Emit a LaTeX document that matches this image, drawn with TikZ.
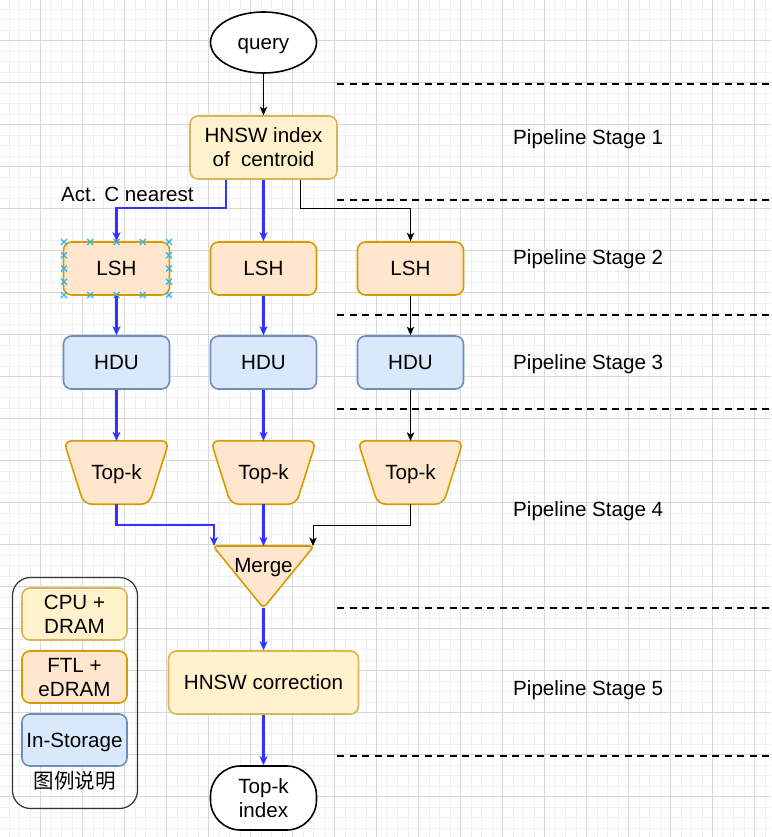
\documentclass[tikz,border=0pt]{standalone}
\usepackage{fontspec}
\setmainfont{Liberation Sans}
\newfontfamily\cjk{Noto Sans CJK SC}
\usetikzlibrary{arrows.meta,calc,shapes.geometric}
\definecolor{yfill}{HTML}{FFF2CC}\definecolor{ystroke}{HTML}{D6B656}
\definecolor{ofill}{HTML}{FFE6CC}\definecolor{ostroke}{HTML}{D79B00}
\definecolor{bfill}{HTML}{DAE8FC}\definecolor{bstroke}{HTML}{6C8EBF}
\definecolor{arrblue}{HTML}{3333FF}
\definecolor{selblue}{HTML}{29B6F2}
\definecolor{gridminor}{HTML}{F0F0F0}
\definecolor{gridmajor}{HTML}{D8D8D8}
\pgfdeclarelayer{bg}
\pgfdeclarelayer{shapes}
\pgfsetlayers{bg,shapes,main}
\begin{document}
\begin{tikzpicture}[x=1pt,y=-1pt,
 txt/.style={font=\fontsize{20.6}{24}\selectfont, align=center, inner sep=0pt, text height=18.5pt, text depth=4.4pt},
 twoline/.style={text height=42.5pt, text depth=4.4pt},
 box/.style={txt, draw, rounded corners=8pt, line width=1.6pt, minimum width=106pt, minimum height=53pt},
 cpubox/.style={box, fill=yfill, draw=ystroke},
 ftlbox/.style={box, fill=ofill, draw=ostroke},
 hdubox/.style={box, fill=bfill, draw=bstroke},
 ftlshape/.style={fill=ofill, draw=ostroke, line width=1.6pt, rounded corners=8pt, line join=round},
 bluearr/.style={draw=arrblue, line width=2.2pt, -{Stealth[length=9pt,width=8pt,inset=2.5pt]}},
 blackarr/.style={draw=black, line width=1pt, -{Stealth[length=8.5pt,width=7.5pt,inset=2.2pt]}},
 stagesep/.style={draw=black, line width=2.4pt, dash pattern=on 7pt off 5.5pt},
 stagelbl/.style={txt, anchor=west},
 selmark/.style={draw=selblue, line width=1.3pt},
 termnode/.style={txt, draw, line width=1.6pt, fill=white, minimum width=106pt, minimum height=64pt},
]
\useasboundingbox (0,0) rectangle (771,837);
% background grid
\begin{pgfonlayer}{bg}
 \fill[white] (0,0) rectangle (771,837);
 \foreach \i in {0,...,74} {
   \draw[gridminor, line width=0.8pt] ({-1.3+10.5*\i},0) -- ({-1.3+10.5*\i},837);
 }
 \foreach \i in {0,...,80} {
   \draw[gridminor, line width=0.8pt] (0,{-1.3+10.5*\i}) -- (771,{-1.3+10.5*\i});
 }
 \foreach \i in {0,...,19} {
   \draw[gridmajor, line width=1pt] ({-1.3+42*\i},0) -- ({-1.3+42*\i},837);
   \draw[gridmajor, line width=1pt] (0,{-1.3+42*\i}) -- (771,{-1.3+42*\i});
 }
\end{pgfonlayer}

% stage separators and labels
\foreach \yy in {84,200,315,409,608,756} {
  \draw[stagesep] (337,\yy) -- (775,\yy);
}
\node[stagelbl] (st1) at (513,137) {Pipeline Stage 1};
\node[stagelbl] (st2) at (513,257) {Pipeline Stage 2};
\node[stagelbl] (st3) at (513,362) {Pipeline Stage 3};
\node[stagelbl] (st4) at (513,509) {Pipeline Stage 4};
\node[stagelbl] (st5) at (513,688) {Pipeline Stage 5};

% main nodes
\node[termnode, ellipse, inner sep=0pt, minimum width=106pt, minimum height=61pt] (query) at (263.5,42.5) {query};
\node[cpubox, twoline, minimum width=147pt, minimum height=63pt] (hnsw) at (263.5,147.5) {HNSW index\\of\ \ centroid};

\node[ftlbox] (lsh1) at (116.5,268.5) {LSH};
\node[ftlbox] (lsh2) at (263.5,268.5) {LSH};
\node[ftlbox] (lsh3) at (410.5,268.5) {LSH};

\node[hdubox] (hdu1) at (116.5,362.5) {HDU};
\node[hdubox] (hdu2) at (263.5,362.5) {HDU};
\node[hdubox] (hdu3) at (410.5,362.5) {HDU};

\foreach \n/\xx in {topk1/116.5,topk2/263.5,topk3/410.5} {
  \node[txt, minimum width=105pt, minimum height=63pt] (\n) at (\xx,472.5) {Top-k};
  \begin{pgfonlayer}{shapes}
   \draw[ftlshape] (\n.north west) -- (\n.north east) -- ($(\n.south east)+(-20,0)$) -- ($(\n.south west)+(20,0)$) -- cycle;
  \end{pgfonlayer}
}

\node[txt] (merge) at (263.5,565) {Merge};
\coordinate (mergeL) at ($(merge.center)+(-49.5,-19)$);
\coordinate (mergeM) at ($(merge.center)+(0,-19)$);
\coordinate (mergeR) at ($(merge.center)+(49.5,-19)$);
\coordinate (mergeB) at ($(merge.center)+(0,43)$);
\begin{pgfonlayer}{shapes}
 \draw[ftlshape, rounded corners=4pt] ($(merge.center)+(-50.5,-19)$) -- ($(merge.center)+(50.5,-19)$) -- (mergeB) -- cycle;
\end{pgfonlayer}

\node[cpubox, minimum width=190pt, minimum height=63pt] (hnswc) at (263.5,682.5) {HNSW correction};
\node[termnode, twoline, rounded corners=30pt] (topkidx) at (263.5,798) {Top-k\\index};

% selection marks on left LSH
\foreach \px in {64,90.25,116.5,142.75,169} {
  \foreach \py in {242,295} {
    \draw[selmark] (\px-3,\py-3) -- (\px+3,\py+3) (\px-3,\py+3) -- (\px+3,\py-3);
  }
}
\foreach \py in {255.25,268.5,281.75} {
  \foreach \px in {64,169} {
    \draw[selmark] (\px-3,\py-3) -- (\px+3,\py+3) (\px-3,\py+3) -- (\px+3,\py-3);
  }
}

% connectors
\draw[blackarr] (query.south) -- (hnsw.north);
\draw[bluearr] ($(hnsw.south west)!0.25!(hnsw.south east)$) |- ($(lsh1.north)+(0,-33)$) -- (lsh1.north);
\draw[bluearr] (hnsw.south) -- (lsh2.north);
\draw[blackarr] ($(hnsw.south west)!0.75!(hnsw.south east)$) |- ($(lsh3.north)+(0,-33)$) -- (lsh3.north);
\node[txt, anchor=west] (actlbl) at (61,194) {Act. C nearest};

\draw[bluearr] (lsh1.south) -- (hdu1.north);
\draw[bluearr] (lsh2.south) -- (hdu2.north);
\draw[blackarr] (lsh3.south) -- (hdu3.north);

\draw[bluearr] (hdu1.south) -- (topk1.north);
\draw[bluearr] (hdu2.south) -- (topk2.north);
\draw[blackarr] (hdu3.south) -- (topk3.north);

\draw[bluearr] (topk1.south) -- ++(0,21) -| (mergeL);
\draw[bluearr] (topk2.south) -- (mergeM);
\draw[blackarr] (topk3.south) -- ++(0,21) -| (mergeR);

\draw[bluearr] (mergeB) -- (hnswc.north);
\draw[bluearr] (hnswc.south) -- (topkidx.north);

% legend
\node[draw=black!80, line width=1.2pt, rounded corners=18pt, minimum width=125pt, minimum height=231pt, inner sep=0pt] (legend) at (75,693) {};
\node[cpubox, twoline, minimum width=105pt, minimum height=52pt] (lgcpu) at (74.5,614) {CPU +\\DRAM};
\node[ftlbox, twoline, minimum width=105pt, minimum height=52pt] (lgftl) at (74.5,677) {FTL +\\eDRAM};
\node[hdubox, minimum width=105pt, minimum height=52pt] (lgstor) at (74.5,740) {In-Storage};
\node[txt, font=\cjk\fontsize{20.5}{24}\selectfont] (lgtitle) at (74.5,781) {图例说明};
\end{tikzpicture}
\end{document}
